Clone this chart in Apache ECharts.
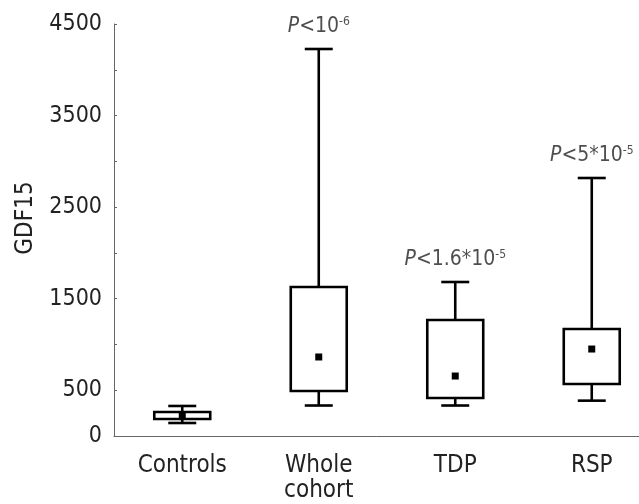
<!DOCTYPE html>
<html><head><meta charset="utf-8">
<script src="https://cdn.jsdelivr.net/npm/echarts@6/dist/echarts.min.js"></script>
<style>html,body{margin:0;padding:0;background:#fff}#c{width:639px;height:504px}</style>
</head><body><div id="c"></div>
<script>
var categories = ['Controls', 'Whole\ncohort', 'TDP', 'RSP'];
var whiskerLow  = [142, 333, 333, 386];
var q1          = [186, 491, 415, 568];
var median      = [218, 863, 655, 950];
var q3          = [262, 1627, 1267, 1169];
var whiskerHigh = [328, 4227, 1682, 2818];
var pLabels = ['', '{i|P}<10{s|-6}', '{i|P}<1.6*10{s|-5}', '{i|P}<5*10{s|-5}'];
var yLabelValues = [0, 500, 1500, 2500, 3500, 4500];

var FONT = '"DejaVu Sans Condensed", "Liberation Sans Narrow", sans-serif';
var chart = echarts.init(document.getElementById('c'));
var boxData = categories.map(function (c, i) {
  return [i, whiskerLow[i], q1[i], median[i], q3[i], whiskerHigh[i]];
});
var pData = categories.map(function (c, i) { return [i, whiskerHigh[i]]; });

chart.setOption({
  animation: false,
  grid: { left: 114, top: 24, bottom: 68, right: -21, containLabel: false, outerBoundsMode: 'none' },
  xAxis: {
    type: 'category', data: categories,
    axisLine: { lineStyle: { color: '#666', width: 1 } },
    axisTick: { inside: true, length: 3, alignWithLabel: true, lineStyle: { color: '#666' } },
    axisLabel: { color: '#222', fontSize: 24, fontFamily: FONT, margin: 17, lineHeight: 25, interval: 0 }
  },
  yAxis: {
    type: 'value', min: 0, max: 4500, interval: 500,
    name: 'GDF15', nameLocation: 'middle', nameGap: 76, nameRotate: 90,
    nameTextStyle: { color: '#222', fontSize: 24, fontFamily: FONT, padding: [0, 0, 0, 24] },
    axisLine: { show: true, lineStyle: { color: '#666', width: 1 } },
    axisTick: { show: true, inside: true, length: 3, lineStyle: { color: '#666' } },
    splitLine: { show: false },
    axisLabel: {
      color: '#222', fontSize: 23, fontFamily: FONT, margin: 12, padding: [4, 0, 0, 0],
      formatter: function (v) { return yLabelValues.indexOf(v) >= 0 ? String(v) : ''; }
    }
  },
  series: [{
    type: 'custom',
    data: boxData,
    encode: { x: 0, y: [1, 2, 3, 4, 5] },
    renderItem: function (params, api) {
      var i = api.value(0);
      var band = api.size([1, 0])[0];
      var x = api.coord([i, 0])[0];
      var yl = api.coord([i, api.value(1)])[1];
      var yq1 = api.coord([i, api.value(2)])[1];
      var ym = api.coord([i, api.value(3)])[1];
      var yq3 = api.coord([i, api.value(4)])[1];
      var yh = api.coord([i, api.value(5)])[1];
      var bw = band * 0.41, cw = band * 0.205;
      var st = { stroke: '#000', lineWidth: 2.6, fill: null };
      return { type: 'group', children: [
        { type: 'line', shape: { x1: x, y1: yh, x2: x, y2: yq3 }, style: st },
        { type: 'line', shape: { x1: x, y1: yq1, x2: x, y2: yl }, style: st },
        { type: 'line', shape: { x1: x - cw / 2, y1: yh, x2: x + cw / 2, y2: yh }, style: st },
        { type: 'line', shape: { x1: x - cw / 2, y1: yl, x2: x + cw / 2, y2: yl }, style: st },
        { type: 'rect', shape: { x: x - bw / 2, y: yq3, width: bw, height: yq1 - yq3 }, style: { stroke: '#000', lineWidth: 2.6, fill: '#fff' } },
        { type: 'rect', shape: { x: x - 3.5, y: ym - 3.5, width: 7, height: 7 }, style: { fill: '#000' } }
      ] };
    }
  }, {
    type: 'scatter', data: pData, symbolSize: 0, silent: true,
    label: {
      show: true, position: 'top', distance: 11, color: '#222',
      fontSize: 21, fontFamily: FONT,
      formatter: function (p) { return pLabels[p.dataIndex]; },
      rich: {
        i: { fontStyle: 'italic', fontSize: 21, fontFamily: FONT, color: '#222' },
        s: { fontSize: 12, fontFamily: FONT, color: '#222', verticalAlign: 'top', padding: [0, 0, 10, 0] }
      }
    }
  }]
});
</script></body></html>
